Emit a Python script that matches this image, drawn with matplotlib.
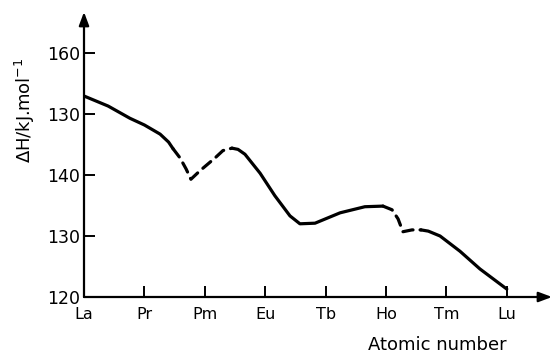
import matplotlib
matplotlib.use("Agg")
import matplotlib.pyplot as plt

# Data (atomic number, enthalpy kJ/mol)
seg1_x = [57.0, 57.8, 58.52, 59.0, 59.52, 59.8, 59.95]
seg1_y = [152.95, 151.3, 149.3, 148.2, 146.7, 145.4, 144.3]
dash1_x = [59.95, 60.18, 60.38, 60.54, 60.84, 61.34, 61.6, 61.9]
dash1_y = [144.3, 142.8, 141.0, 139.3, 140.7, 142.8, 144.0, 144.4]
seg2_x = [61.9, 62.1, 62.33, 62.83, 63.32, 63.82, 64.15, 64.65, 65.48, 66.3, 66.9]
seg2_y = [144.4, 144.2, 143.4, 140.3, 136.6, 133.3, 132.0, 132.1, 133.8, 134.8, 134.9]
dash2_x = [66.9, 67.2, 67.4, 67.56, 67.86, 68.16]
dash2_y = [134.9, 134.3, 132.8, 130.7, 131.0, 131.0]
seg3_x = [68.16, 68.4, 68.79, 69.45, 70.11, 71.0]
seg3_y = [131.0, 130.8, 130.0, 127.5, 124.6, 121.3]

x_ticks = [57, 59, 61, 63, 65, 67, 69, 71]
x_labels = ["La", "Pr", "Pm", "Eu", "Tb", "Ho", "Tm", "Lu"]
y_ticks = [120, 130, 140, 150, 160]
y_labels = ["120", "130", "140", "130", "160"]

fig = plt.figure(figsize=(5.52, 3.56), dpi=100)
ax = fig.add_axes([84/552, 59/356, 468/552, 285/356])
ax.set_xlim(57, 57 + 468/30.2)
ax.set_ylim(120, 120 + 285/6.1)
for s in ax.spines.values():
    s.set_visible(False)

lw = 2.3
kw = dict(color="black", lw=lw, solid_capstyle="round", solid_joinstyle="round")
ax.plot(seg1_x, seg1_y, **kw)
ax.plot(seg2_x, seg2_y, **kw)
ax.plot(seg3_x, seg3_y, **kw)
ax.plot(dash1_x, dash1_y, color="black", lw=lw, linestyle=(0, (3.2, 2.2)), dash_capstyle="round")
ax.plot(dash2_x, dash2_y, color="black", lw=lw, linestyle=(0, (3.2, 2.2)), dash_capstyle="round")

# axes with arrows
ax.annotate("", xy=(1.0, 0), xytext=(0, 0), xycoords="axes fraction",
            arrowprops=dict(arrowstyle="-|>,head_length=0.8,head_width=0.3", color="black", lw=1.6, shrinkA=0, shrinkB=0))
ax.annotate("", xy=(0, 1.0), xytext=(0, 0), xycoords="axes fraction",
            arrowprops=dict(arrowstyle="-|>,head_length=0.8,head_width=0.3", color="black", lw=1.6, shrinkA=0, shrinkB=0))

ax.set_xticks(x_ticks)
ax.set_xticklabels(x_labels, fontsize=11.5)
ax.set_yticks(y_ticks)
ax.set_yticklabels(y_labels, fontsize=12.5)
ax.tick_params(axis="x", direction="in", length=8, width=1.4, pad=7)
ax.tick_params(axis="y", direction="in", length=8, width=1.4, pad=3)

fig.text(25/552, 1 - 110/356, "ΔH/kJ.mol$^{-1}$", rotation=90, ha="center", va="center", fontsize=13)
fig.text(437/552, 1 - 345/356, "Atomic number", ha="center", va="center", fontsize=13)

fig.savefig("out.png", dpi=100)
